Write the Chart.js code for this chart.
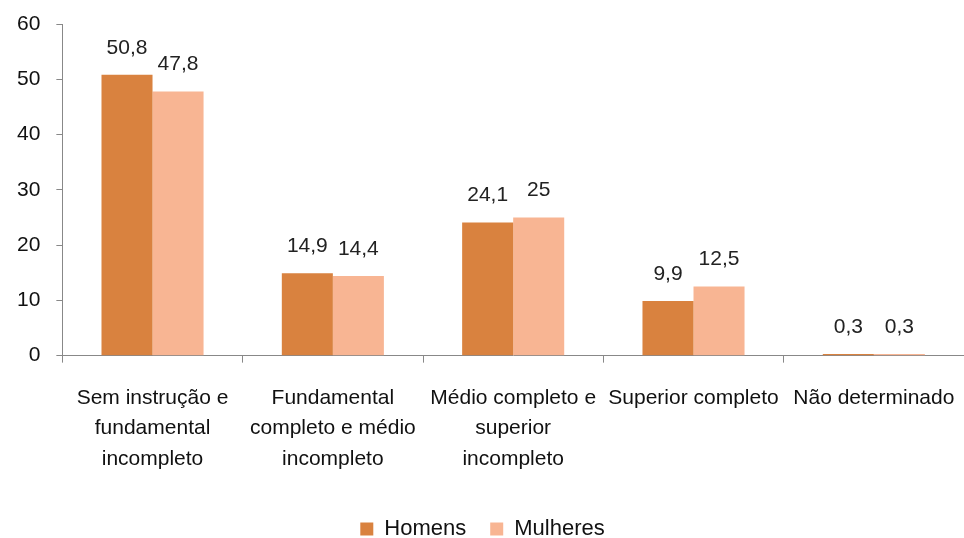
<!DOCTYPE html>
<html>
<head>
<meta charset="utf-8">
<script src="https://cdn.jsdelivr.net/npm/chart.js@4"></script>
<style>
  html, body { margin: 0; padding: 0; background: #fff; }
  #wrap { width: 964px; height: 538px; }
</style>
</head>
<body>
<div id="wrap"><canvas id="chart" width="964" height="538"></canvas></div>
<script>
// categorias e valores (%)
const categories = [
    ['Sem instrução e', 'fundamental', 'incompleto'],
    ['Fundamental', 'completo e médio', 'incompleto'],
    ['Médio completo e', 'superior', 'incompleto'],
    'Superior completo',
    'Não determinado'
];
const homens = [50.8, 14.9, 24.1, 9.9, 0.3];
const mulheres = [47.8, 14.4, 25, 12.5, 0.3];
const yTicks = [0, 10, 20, 30, 40, 50, 60];

const FONT = 'Liberation Sans, Arial, sans-serif';

// rótulos de valor acima das barras, com vírgula decimal
const valueLabels = {
    id: 'valueLabels',
    afterDatasetsDraw(chart) {
        const ctx = chart.ctx;
        ctx.save();
        ctx.font = '21px ' + FONT;
        ctx.fillStyle = '#222';
        ctx.textAlign = 'center';
        ctx.textBaseline = 'middle';
        chart.data.datasets.forEach((ds, i) => {
            chart.getDatasetMeta(i).data.forEach((bar, j) => {
                const txt = String(ds.data[j]).replace('.', ',');
                ctx.fillText(txt, bar.x, bar.y - 27);
            });
        });
        ctx.restore();
    }
};

new Chart(document.getElementById('chart'), {
    type: 'bar',
    data: {
        labels: categories,
        datasets: [
            { label: 'Homens', data: homens, backgroundColor: '#D9823F' },
            { label: 'Mulheres', data: mulheres, backgroundColor: '#F8B593' }
        ]
    },
    options: {
        responsive: false,
        animation: false,
        layout: { padding: { left: 1, right: 0, top: 24, bottom: -12 } },
        datasets: { bar: { categoryPercentage: 0.566, barPercentage: 1 } },
        scales: {
            x: {
                grid: { display: true, drawOnChartArea: false, color: '#888', tickLength: 7, offset: true },
                border: { color: '#888' },
                ticks: { color: '#111', font: { family: FONT, size: 21, lineHeight: 1.45 }, padding: 20, maxRotation: 0, autoSkip: false },
                afterFit: axis => {
                    // sem margem lateral extra: o eixo ocupa toda a largura
                    axis.paddingLeft = 0;
                    axis.paddingRight = 0;
                }
            },
            y: {
                min: 0, max: 60,
                afterBuildTicks: axis => { axis.ticks = yTicks.map(v => ({ value: v })); },
                grid: { display: true, drawOnChartArea: false, color: '#888', tickLength: 6 },
                border: { color: '#888' },
                ticks: { color: '#111', font: { family: FONT, size: 21 }, padding: 16 },
                afterFit: axis => {
                    axis.paddingTop = 0;
                    axis.paddingBottom = 0;
                }
            }
        },
        plugins: {
            legend: {
                position: 'bottom',
                labels: { color: '#111', font: { family: FONT, size: 22 }, boxWidth: 13, boxHeight: 13, padding: 24 }
            },
            tooltip: { enabled: false }
        }
    },
    plugins: [valueLabels]
});
</script>
</body>
</html>
